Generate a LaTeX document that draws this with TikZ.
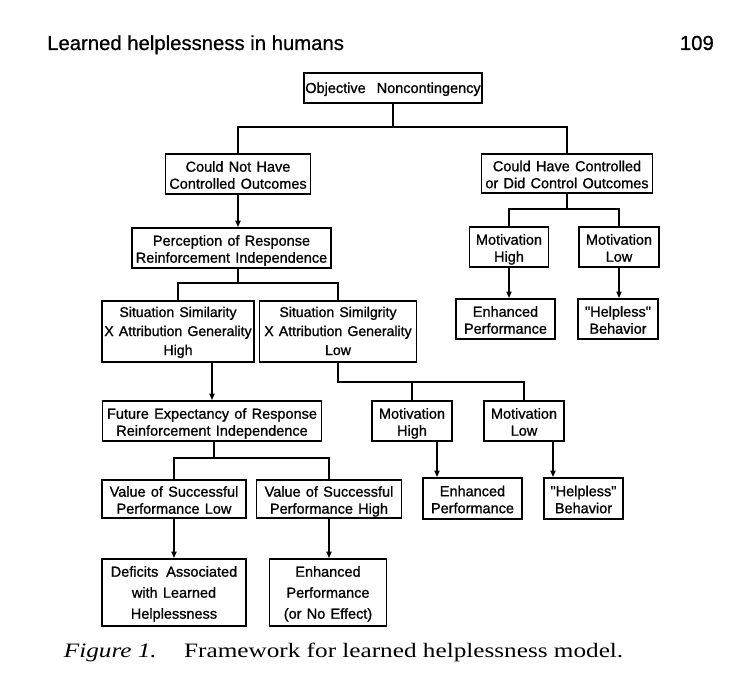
\documentclass[tikz,border=0pt]{standalone}
\usepackage{fontspec}
\setmainfont{Liberation Serif}
\newfontfamily\leroy[WordSpace=1.3,FakeBold=1]{Liberation Sans}
\newfontfamily\headfont[FakeBold=0.6]{Liberation Sans}
\usetikzlibrary{arrows.meta}
\newcommand{\topI}{\rule{0pt}{13pt}}
\newcommand{\topII}{\rule{0pt}{15.4pt}}
\newcommand{\topIII}{\rule{0pt}{12pt}}
\newcommand{\topIV}{\rule{0pt}{13.4pt}}
\newcommand{\botS}{\rule[-3pt]{0pt}{3pt}}
\tikzset{
  box/.style={draw, line width=1.7pt, inner sep=0pt, align=center,
    font=\leroy\fontsize{14.5}{17}\selectfont},
  boxthree/.style={box, font=\leroy\fontsize{14.1}{19}\selectfont},
  boxtall/.style={box, font=\leroy\fontsize{14.5}{21}\selectfont},
  ln/.style={line width=1.7pt},
  arr/.style={line width=1.7pt, -{Triangle[length=6.5pt,width=5pt]}},
  plain/.style={anchor=base west, inner sep=0pt}
}
\begin{document}
\begin{tikzpicture}[x=1pt,y=-1pt]
\useasboundingbox (0,0) rectangle (750,687);
\fill[white] (0,0) rectangle (750,687);

% header and caption
\node[plain] (hd) at (47,50) {\headfont\fontsize{20.3}{22}\selectfont Learned helplessness in humans};
\node[plain, anchor=base east] (pg) at (714,50) {\headfont\fontsize{20.3}{22}\selectfont 109};
\node[plain, anchor=base east] (capf) at (157,657) {\fontsize{20.5}{24}\selectfont\scalebox{1.23}[1]{\itshape Figure 1.}};
\node[plain] (capt) at (184,657) {\fontsize{20.5}{24}\selectfont\scalebox{1.23}[1]{Framework for learned helplessness model.}};

% boxes
\node[box, minimum width=178pt, minimum height=30pt] (obj) at (393,88) {\topI Objective\hspace{11pt}Noncontingency\botS};
\node[box, minimum width=145pt, minimum height=40pt] (cnh) at (238,174) {\topII Could Not Have\\Controlled Outcomes\botS};
\node[box, minimum width=171pt, minimum height=39pt] (chc) at (567,173.5) {\topII Could Have Controlled\\or Did Control Outcomes\botS};
\node[box, minimum width=199pt, minimum height=40pt] (perc) at (231.5,248) {\topII Perception of Response\\Reinforcement Independence\botS};
\node[boxthree, minimum width=152pt, minimum height=61pt] (sith) at (178,331.5) {\topIII Situation Similarity\\X Attribution Generality\\High\botS};
\node[boxthree, minimum width=157pt, minimum height=61pt] (sitl) at (338,331.5) {\topIII Situation Similgrity\\X Attribution Generality\\Low\botS};
\node[box, minimum width=79pt, minimum height=40pt] (mhr) at (509,247) {\topII Motivation\\High\botS};
\node[box, minimum width=80pt, minimum height=40pt] (mlr) at (619,247) {\topII Motivation\\Low\botS};
\node[box, minimum width=99pt, minimum height=40pt] (ehr) at (505.5,319) {\topII Enhanced\\Performance\botS};
\node[box, minimum width=80pt, minimum height=40pt] (hbr) at (618,319) {\topII "Helpless"\\Behavior\botS};
\node[box, minimum width=219pt, minimum height=40pt] (fut) at (212,421) {\topII Future Expectancy of Response\\Reinforcement Independence\botS};
\node[box, minimum width=80pt, minimum height=40pt] (mhm) at (412,421) {\topII Motivation\\High\botS};
\node[box, minimum width=80pt, minimum height=40pt] (mlm) at (524,421) {\topII Motivation\\Low\botS};
\node[box, minimum width=99pt, minimum height=41pt] (ehm) at (472.5,498.5) {\topII Enhanced\\Performance\botS};
\node[box, minimum width=79pt, minimum height=41pt] (hbm) at (583.5,498.5) {\topII "Helpless"\\Behavior\botS};
\node[box, minimum width=144pt, minimum height=38pt] (vl) at (174,499) {\topII Value of Successful\\Performance Low\botS};
\node[box, minimum width=145pt, minimum height=38pt] (vh) at (329,499) {\topII Value of Successful\\Performance High\botS};
\node[boxtall, minimum width=144pt, minimum height=67pt] (def) at (174,592.5) {\topIV Deficits\hspace{8pt}Associated\\with Learned\\Helplessness\botS};
\node[boxtall, minimum width=117pt, minimum height=67pt] (enb) at (328,592.5) {\topIV Enhanced\\Performance\\(or No Effect)\botS};

% junctions
\coordinate (j1) at (393,127);
\coordinate (j2) at (238,283);
\coordinate (j3) at (567,209);
\coordinate (j4) at (338,382);
\coordinate (j5) at (214,458);

% connectors
\draw[ln] (obj.south) -- (j1);
\draw[ln] (cnh.north) |- (j1) -| (chc.north);
\draw[arr] (cnh.south) -- (cnh.south |- perc.north);
\draw[ln] (j2 |- perc.south) -- (j2);
\draw[ln] (sith.north) |- (j2) -| (sitl.north);
\draw[ln] (chc.south) -- (j3);
\draw[ln] (mhr.north) |- (j3) -| (mlr.north);
\draw[arr] (mhr.south) -- (mhr.south |- ehr.north);
\draw[arr] (mlr.south) -- (mlr.south |- hbr.north);
\draw[arr] (fut.north |- sith.south) -- (fut.north);
\draw[ln] (sitl.south) -- (j4) -| (mlm.north);
\draw[ln] (mhm.north) -- (mhm.north |- j4);
\draw[arr] ([xshift=25pt]mhm.south) -- ([xshift=25pt]mhm.south |- ehm.north);
\draw[arr] ([xshift=29pt]mlm.south) -- ([xshift=29pt]mlm.south |- hbm.north);
\draw[ln] (j5 |- fut.south) -- (j5);
\draw[ln] (vl.north) |- (j5) -| (vh.north);
\draw[arr] (vl.south) -- (def.north);
\draw[arr] (vh.south) -- (vh.south |- enb.north);
\end{tikzpicture}
\end{document}
